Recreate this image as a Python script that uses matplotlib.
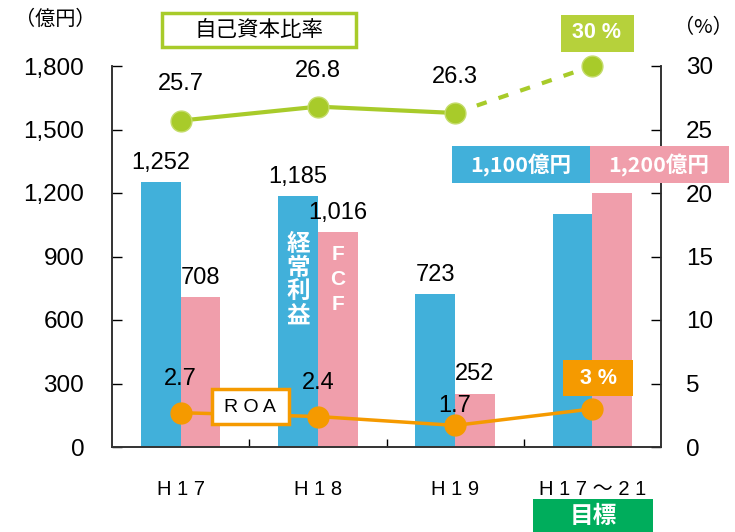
import matplotlib
matplotlib.use("Agg")
import matplotlib.pyplot as plt
from matplotlib.patches import Rectangle
import numpy as np

plt.rcParams['font.family'] = ['Liberation Sans', 'Noto Sans CJK JP', 'DejaVu Sans']

# ---- data ----
categories = ["H 1 7", "H 1 8", "H 1 9", "H 1 7 ～ 2 1"]
ordinary_profit = [1252, 1185, 723, 1100]   # 経常利益 (億円)
fcf = [708, 1016, 252, 1200]                 # FCF (億円)
equity_ratio = [25.7, 26.8, 26.3, 30]        # 自己資本比率 (%)
roa = [2.7, 2.4, 1.7, 3]                     # ROA (%)
left_ticks = [0, 300, 600, 900, 1200, 1500, 1800]
right_ticks = [0, 5, 10, 15, 20, 25, 30]

BLUE = '#41b0da'
PINK = '#f09eab'
GREEN = '#a8cb2a'
GREEN_BOX = '#b6d13b'
ORANGE = '#f59a00'
DKGREEN = '#00ad5c'

W, H = 735, 532
fig = plt.figure(figsize=(W / 100, H / 100), dpi=100)

def fx(px):
    return px / W

def fy(py):
    return 1 - py / H

ax = fig.add_axes([fx(112), fy(447), fx(661) - fx(112), fy(66) - fy(447)])
ax2 = ax.twinx()

x = np.arange(len(categories))
bw = 0.29
ax.bar(x - bw / 2, ordinary_profit, bw, color=BLUE, zorder=2)
ax.bar(x + bw / 2, fcf, bw, color=PINK, zorder=2)

ax.set_xlim(-0.5, 3.5)
ax.set_ylim(0, 1800)
ax2.set_ylim(0, 30)

ax.set_yticks(left_ticks)
ax.set_yticklabels([f"{v:,}" for v in left_ticks], fontsize=17.5)
ax2.set_yticks(right_ticks)
ax2.set_yticklabels([str(v) for v in right_ticks], fontsize=17.5)
ax.set_xticks(x)
ax.set_xticklabels(categories, fontsize=14.5, family=['Liberation Sans', 'Noto Sans CJK JP'])
ax.set_xticks(np.arange(len(categories) - 1) + 0.5, minor=True)
ax.tick_params(axis='x', which='major', length=0, pad=24)
ax.tick_params(axis='x', which='minor', direction='in', length=6, width=1)
ax.tick_params(axis='y', direction='in', length=7, width=1, pad=20)
ax2.tick_params(axis='y', direction='in', length=7, width=1, pad=18)
for a in (ax, ax2):
    a.spines['top'].set_visible(False)
    for s in ('left', 'right', 'bottom'):
        a.spines[s].set_color('#333333')
        a.spines[s].set_linewidth(1.2)

# bar value labels (skip the target category)
for i in range(3):
    ax.annotate(f"{ordinary_profit[i]:,}", (x[i] - bw / 2, ordinary_profit[i]),
                xytext=(0, 6), textcoords='offset points', ha='center', va='bottom',
                fontsize=17, zorder=5)
    ax.annotate(f"{fcf[i]:,}", (x[i] + bw / 2, fcf[i]),
                xytext=(0, 6), textcoords='offset points', ha='center', va='bottom',
                fontsize=17, zorder=5)

# equity ratio line
ax2.plot(x[:3], equity_ratio[:3], color=GREEN, lw=3, zorder=4)
ax2.plot(x[2:], equity_ratio[2:], color=GREEN, lw=3, ls=(0, (2.5, 3)), zorder=4)
ax2.plot(x, equity_ratio, 'o', color=GREEN, ms=15, mec='#c4dc6a', mew=1, zorder=5, clip_on=False)
for i in range(3):
    ax2.annotate(f"{equity_ratio[i]}", (x[i], equity_ratio[i]), xytext=(0, 26),
                 textcoords='offset points', ha='center', va='center', fontsize=17)

# ROA line
ax2.plot(x, roa, '-o', color=ORANGE, lw=2.5, ms=15, zorder=6, clip_on=False)
roa_offsets = [24, 24, 14, 0]
for i in range(3):
    ax2.annotate(f"{roa[i]}", (x[i], roa[i]), xytext=(0, roa_offsets[i]),
                 textcoords='offset points', ha='center', va='center', fontsize=17, zorder=7)

# ---- boxes and labels ----
def box(x0, y0, x1, y1, face, edge=None, lw=0):
    r = Rectangle((fx(x0), fy(y1)), fx(x1) - fx(x0), fy(y0) - fy(y1),
                  transform=fig.transFigure, facecolor=face,
                  edgecolor=edge if edge else face, linewidth=lw, zorder=10)
    fig.patches.append(r)

def label(px, py, s, size, color='black', weight='normal', family=None, **kw):
    fig.text(fx(px), fy(py), s, fontsize=size, color=color, weight=weight,
             ha='center', va='center', zorder=11,
             family=family if family else ['Noto Sans CJK JP', 'DejaVu Sans'], **kw)

label(55, 19, "（億円）", 14.5)
label(703, 28, "（%）", 14.5)

box(162, 13, 356, 47, 'white', GREEN, 2.5)
label(259, 30, "自己資本比率", 15.5)

box(561, 15, 634, 52, GREEN_BOX)
label(597, 33, "30 %", 15.5, 'white', 'bold', ['Liberation Sans'])

box(452, 146, 590, 183, BLUE)
label(521, 165, "1,100億円", 15.5, 'white', 'bold')
box(590, 146, 729, 183, PINK)
label(659, 165, "1,200億円", 15.5, 'white', 'bold')

box(212, 389, 289, 424, 'white', ORANGE, 2.5)
label(250, 407, "R O A", 14, family=['Liberation Sans'])

box(563, 360, 633, 396, ORANGE)
label(598, 378, "3 %", 15.5, 'white', 'bold', ['Liberation Sans'])

box(533, 499, 653, 532, DKGREEN)
label(593, 516, "目標", 17, 'white', 'bold')

# vertical labels inside bars
ax.text(x[1] - bw / 2, 790, "経\n常\n利\n益", color='white', weight='bold', fontsize=17,
        ha='center', va='center', linespacing=1.0, zorder=8,
        family=['Noto Sans CJK JP'])
ax.text(x[1] + bw / 2, 790, "F\nC\nF", color='white', weight='bold', fontsize=15,
        ha='center', va='center', linespacing=1.4, zorder=8,
        family=['Liberation Sans'])

fig.savefig("out.png", dpi=100)
